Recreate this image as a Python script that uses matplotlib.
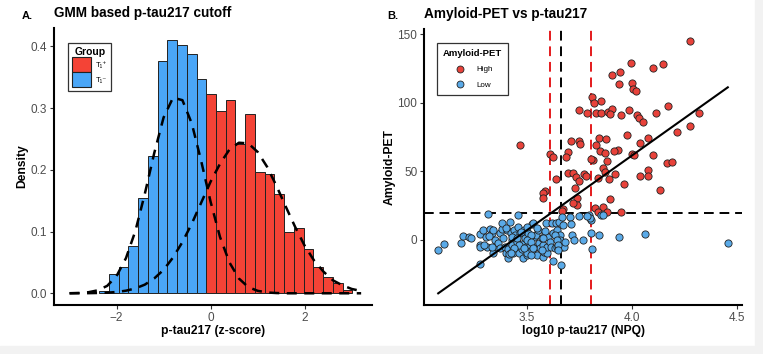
import numpy as np
import matplotlib
matplotlib.use("Agg")
import matplotlib.pyplot as plt
from matplotlib.patches import Patch, Rectangle
from matplotlib.lines import Line2D

plt.rcParams['font.family'] = ['Liberation Sans', 'DejaVu Sans']

# ---- panel A: histogram of p-tau217 z-scores ----
bin_start = -2.37
bin_width = 0.207
dens = [0.004, 0.031, 0.042, 0.077, 0.154, 0.223, 0.376, 0.410, 0.402, 0.388, 0.348,
        0.323, 0.296, 0.314, 0.242, 0.291, 0.196, 0.194, 0.161, 0.099, 0.105,
        0.071, 0.042, 0.026, 0.016, 0.006]
group = ['neg'] * 11 + ['pos'] * 15

curve_x = [-3.0, -2.8, -2.6, -2.4, -2.2, -2.0, -1.8, -1.6, -1.4, -1.2, -1.0, -0.8,
           -0.6, -0.4, -0.2, 0.0, 0.2, 0.4, 0.6, 0.8, 1.0, 1.2, 1.4, 1.6, 1.8, 2.0,
           2.2, 2.4, 2.6, 2.8, 3.0, 3.2]
comp_neg = [0.0001, 0.0005, 0.0017, 0.0048, 0.012, 0.028, 0.057, 0.101, 0.161, 0.227,
            0.285, 0.317, 0.313, 0.275, 0.214, 0.148, 0.091, 0.050, 0.024, 0.010,
            0.004, 0.0013, 0.0004, 0.0, 0.0, 0.0, 0.0, 0.0, 0.0, 0.0, 0.0, 0.0]
comp_pos = [0.0, 0.0001, 0.0002, 0.0005, 0.001, 0.0021, 0.0042, 0.0079, 0.014, 0.024,
            0.038, 0.058, 0.083, 0.113, 0.147, 0.181, 0.210, 0.233, 0.244, 0.243,
            0.229, 0.205, 0.174, 0.140, 0.107, 0.077, 0.053, 0.035, 0.021, 0.013,
            0.007, 0.0037]

# ---- panel B: amyloid-PET vs log10 p-tau217 ----
high_x = [3.994, 3.904, 3.943, 3.940, 3.999, 4.004, 4.019, 3.809, 3.852, 3.820,
          3.750, 3.785, 3.829, 3.853, 3.888, 3.904, 3.896, 3.948, 3.987, 4.022,
          4.035, 4.051, 4.276, 4.101, 4.149, 4.173, 4.114, 4.320, 4.276, 4.216,
          3.978, 4.078, 4.038, 3.935, 3.999, 4.010, 4.101, 4.165, 4.192, 4.078,
          4.038, 4.075, 3.962, 4.133, 3.468, 3.611, 3.624, 3.709, 3.750, 3.753,
          3.695, 3.685, 3.698, 3.719, 3.734, 3.750, 3.772, 3.782, 3.639, 3.730,
          3.587, 3.576, 3.576, 3.845, 3.877, 3.829, 3.848, 3.872, 3.814, 3.806,
          3.883, 3.915, 3.864, 3.872, 3.840, 3.892, 3.919, 3.896, 3.741, 3.741,
          3.718, 3.671, 3.666, 3.825, 3.861, 3.880, 3.840, 3.947]
high_y = [129.0, 120.3, 122.2, 113.7, 114.2, 110.1, 108.8, 104.4, 101.5, 99.9,
          94.8, 92.3, 92.3, 92.3, 93.0, 95.5, 91.8, 91.3, 94.8, 91.1,
          88.7, 86.2, 145.3, 125.1, 128.3, 97.9, 92.3, 92.3, 83.1, 78.9,
          76.5, 74.6, 70.5, 65.6, 62.7, 62.0, 62.0, 56.4, 57.1, 51.0,
          46.6, 46.9, 40.8, 36.4, 69.2, 62.7, 60.7, 72.4, 72.4, 70.0,
          64.4, 60.3, 48.6, 48.6, 46.1, 43.2, 48.1, 46.6, 44.2, 37.7,
          35.7, 34.0, 30.4, 74.1, 73.4, 69.2, 65.1, 63.2, 58.5, 58.8,
          57.8, 65.1, 52.3, 49.8, 45.0, 44.2, 48.1, 29.6, 30.4, 25.5,
          26.7, 22.6, 21.1, 23.5, 24.3, 20.6, 20.6, 20.2]

low_x = [3.081, 3.108, 3.187, 3.199, 3.228, 3.234, 3.278, 3.278, 3.278, 3.278,
         3.294, 3.307, 3.313, 3.318, 3.326, 3.334, 3.342, 3.350, 3.350, 3.342,
         3.366, 3.373, 3.373, 3.381, 3.381, 3.389, 3.397, 3.402, 3.405, 3.413,
         3.413, 3.421, 3.424, 3.429, 3.429, 3.434, 3.437, 3.440, 3.445, 3.453,
         3.456, 3.457, 3.460, 3.465, 3.468, 3.476, 3.476, 3.484, 3.487, 3.492,
         3.497, 3.500, 3.503, 3.508, 3.516, 3.516, 3.524, 3.525, 3.532, 3.535,
         3.540, 3.544, 3.547, 3.555, 3.560, 3.563, 3.571, 3.576, 3.579, 3.582,
         3.587, 3.592, 3.595, 3.598, 3.603, 3.611, 3.614, 3.619, 3.623, 3.627,
         3.634, 3.639, 3.642, 3.646, 3.655, 3.658, 3.660, 3.666, 3.666, 3.671,
         3.677, 3.661, 3.706, 3.709, 3.714, 3.725, 3.748, 3.769, 3.797, 3.804,
         3.810, 3.804, 3.845, 3.851, 3.864, 3.940, 4.062, 4.457,
         3.298, 3.337, 3.321, 3.400, 3.416, 3.432, 3.456, 3.472, 3.503, 3.519,
         3.503, 3.464, 3.440, 3.424, 3.487, 3.519, 3.519, 3.635, 3.643, 3.650,
         3.650, 3.587, 3.579, 3.548, 3.532, 3.572, 3.682, 3.801, 3.785]
low_y = [-7.3, -3.2, -2.4, 2.9, 2.4, 1.2, 4.4, -3.6, -5.3, -17.5,
         7.3, 1.9, -4.9, 19.0, 8.3, 4.9, 7.3, 0.0, -4.9, -9.7,
         -2.4, 4.9, -6.1, 7.8, 12.1, 1.2, -4.9, -9.7, 7.3, -6.8,
         -12.9, 13.4, 4.9, 0.0, -3.6, -7.3, -9.7, 7.3, 3.6, -5.3,
         -1.2, 18.2, 9.7, -9.7, 4.9, -2.9, -6.8, -13.4, 7.3, 1.2,
         -4.9, -10.9, -9.7, 4.9, 0.0, -3.6, 11.7, -7.3, 12.6, 2.4,
         -4.9, 3.6, -10.9, 7.3, -1.9, -6.1, 1.7, -12.1, -3.6, -8.5,
         4.9, 12.6, -9.7, -4.9, 1.9, -1.2, -4.9, 12.1, -15.1, 4.9,
         -6.1, 12.6, -4.9, 7.3, 13.4, 3.6, 0.0, 17.0, -4.9, 10.9,
         -4.9, -18.2, 17.0, 11.7, 3.6, 0.0, 17.5, 0.0, 18.2, 14.6,
         -6.8, 4.9, 3.6, 18.2, 18.2, 2.4, 4.1, -1.9,
         -3.6, -4.9, 3.1, 8.5, -10.4, 2.4, 1.2, 6.0, 9.7, 3.6,
         0.0, -3.6, -6.0, -9.7, -6.0, -10.9, -1.7, 3.6, 0.0, -3.6,
         -7.3, 6.6, 1.2, 8.5, -6.1, -7.3, -1.2, 15.8, 17.7]

fit_x = [3.08, 4.455]
fit_y = [-38.9, 111.3]
cut_red = [3.611, 3.804]
cut_black = 3.663
pet_cut = 20

red = '#F44336'
blue = '#4AA6F7'
pt_red = '#E8423A'
pt_blue = '#5AAAE8'
tick_col = '#4D4D4D'

fig = plt.figure(figsize=(7.63, 3.54), dpi=100)
fig.add_artist(Rectangle((0, 0), 1, 0.024, transform=fig.transFigure,
                         color='#F2F2F2', zorder=0))
fig.add_artist(Rectangle((0.990, 0), 0.010, 1, transform=fig.transFigure,
                         color='#F2F2F2', zorder=0))

axA = fig.add_axes([0.0708, 0.1384, 0.4167, 0.7826])
axB = fig.add_axes([0.5561, 0.1384, 0.4160, 0.7796])


def style(ax):
    for s in ['top', 'right']:
        ax.spines[s].set_visible(False)
    for s in ['left', 'bottom']:
        ax.spines[s].set_linewidth(1.5)
    ax.tick_params(length=3, width=0.8, color='#333333', labelsize=8.5,
                   labelcolor=tick_col, pad=2)


# panel A
lefts = [bin_start + i * bin_width for i in range(len(dens))]
cols = [blue if g == 'neg' else red for g in group]
axA.bar(lefts, dens, width=bin_width, align='edge', color=cols,
        edgecolor='#222222', linewidth=0.7, zorder=2)
axA.plot(curve_x, comp_neg, color='black', lw=1.8, ls=(0, (4, 3)), zorder=3)
axA.plot(curve_x, comp_pos, color='black', lw=1.8, ls=(0, (4, 3)), zorder=3)
axA.set_xlim(-3.33, 3.43)
axA.set_ylim(-0.019, 0.43)
axA.set_xticks([-2, 0, 2])
axA.set_yticks([0.0, 0.1, 0.2, 0.3, 0.4])
axA.set_yticklabels(['0.0', '0.1', '0.2', '0.3', '0.4'])
style(axA)
axA.set_xlabel('p-tau217 (z-score)', fontsize=8.7, fontweight='bold', labelpad=1)
axA.set_ylabel('Density', fontsize=8.7, fontweight='bold', labelpad=2)
axA.set_title('GMM based p-tau217 cutoff', fontsize=9.8, fontweight='bold',
              loc='left', pad=8)
fig.text(0.029, 0.955, 'A.', fontsize=8, fontweight='bold', va='center')
hA = [Patch(facecolor=red, edgecolor='#222222', lw=0.8, label='T\u2081\u207a'),
      Patch(facecolor=blue, edgecolor='#222222', lw=0.8, label='T\u2081\u207b')]
legA = axA.legend(handles=hA, title='Group', loc='upper left',
                  bbox_to_anchor=(0.044, 0.946), borderaxespad=0,
                  fontsize=5.5, title_fontsize=7.5,
                  handlelength=2.5, handleheight=2.6, handletextpad=0.6,
                  labelspacing=0.0, borderpad=0.55, fancybox=False,
                  edgecolor='#333333', framealpha=1)
legA.get_title().set_fontweight('bold')
legA.get_frame().set_linewidth(0.9)

# panel B
axB.axhline(pet_cut, color='black', lw=1.4, ls=(0, (5, 3)), zorder=1)
for c in cut_red:
    axB.axvline(c, color='#E41A1C', lw=1.4, ls=(0, (5, 3)), zorder=1)
axB.axvline(cut_black, color='black', lw=1.4, ls=(0, (5, 3)), zorder=1)
axB.scatter(high_x, high_y, s=27, c=pt_red, edgecolors='#222222',
            linewidths=0.6, zorder=3)
axB.scatter(low_x, low_y, s=27, c=pt_blue, edgecolors='#222222',
            linewidths=0.6, zorder=3)
axB.plot(fit_x, fit_y, color='black', lw=1.5, zorder=4)
axB.set_xlim(3.014, 4.521)
axB.set_ylim(-47.4, 153.8)
axB.set_xticks([3.5, 4.0, 4.5])
axB.set_yticks([0, 50, 100, 150])
style(axB)
axB.set_xlabel('log10 p-tau217 (NPQ)', fontsize=8.7, fontweight='bold', labelpad=1)
axB.set_ylabel('Amyloid-PET', fontsize=8.7, fontweight='bold', labelpad=1)
axB.set_title('Amyloid-PET vs p-tau217', fontsize=9.8, fontweight='bold',
              loc='left', pad=8)
fig.text(0.508, 0.955, 'B.', fontsize=8, fontweight='bold', va='center')
hB = [Line2D([], [], marker='o', ls='', ms=5, mfc=pt_red, mec='#222222',
             mew=0.6, label='High'),
      Line2D([], [], marker='o', ls='', ms=5, mfc=pt_blue, mec='#222222',
             mew=0.6, label='Low')]
legB = axB.legend(handles=hB, title='Amyloid-PET', loc='upper left',
                  bbox_to_anchor=(0.04, 0.949), borderaxespad=0,
                  fontsize=5.8, title_fontsize=6.8,
                  handletextpad=1.0, labelspacing=1.0, borderpad=0.7,
                  fancybox=False, edgecolor='#333333', framealpha=1)
legB.get_title().set_fontweight('bold')
legB.get_frame().set_linewidth(0.9)

fig.savefig('out.png', dpi=100)
